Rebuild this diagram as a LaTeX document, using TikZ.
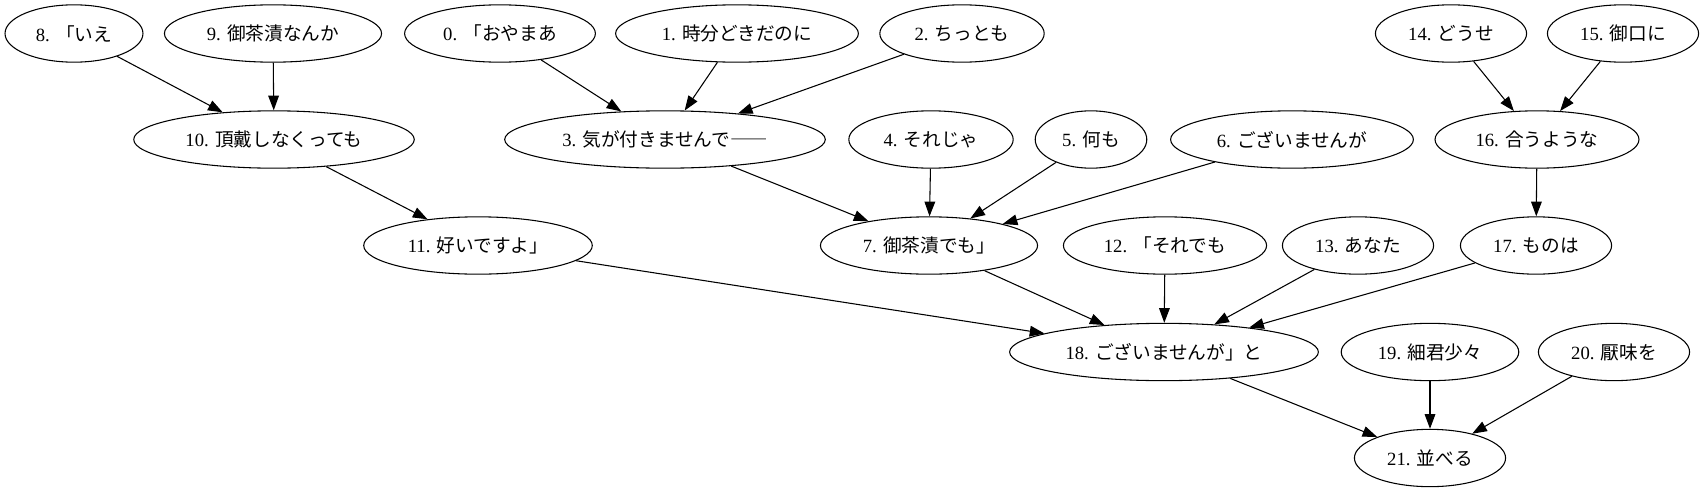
\documentclass[tikz,border=0pt]{standalone}
\usepackage{fontspec}
\setmainfont{Liberation Serif}
\newfontfamily\cjk{Noto Sans CJK JP}
\usetikzlibrary{arrows.meta,shapes.geometric}

\begin{document}
\begin{tikzpicture}[x=0.75pt,y=-0.75pt,
    word/.style={draw,ellipse,line width=0.8pt,inner xsep=8pt,inner ysep=2pt,minimum height=43pt,font=\fontsize{14pt}{16pt}\selectfont},
    dep/.style={->,line width=0.8pt},
    >={Triangle[length=11pt,width=8pt]}]
    \useasboundingbox (0,0) rectangle (1704,493);

    % rank 1
    \node[word] (n8) at (74,33.5) {8. \cjk 「いえ};
    \node[word] (n9) at (273,33.5) {9. \cjk 御茶漬なんか};
    \node[word] (n0) at (500,33.5) {0. \cjk 「おやまあ};
    \node[word] (n1) at (737,33.5) {1. \cjk 時分どきだのに};
    \node[word] (n2) at (962,33.5) {2. \cjk ちっとも};
    \node[word] (n14) at (1451,33.5) {14. \cjk どうせ};
    \node[word] (n15) at (1623,33.5) {15. \cjk 御口に};

    % rank 2
    \node[word] (n10) at (274,139.5) {10. \cjk 頂戴しなくっても};
    \node[word] (n3) at (665,139.5) {3. \cjk 気が付きませんで――};
    \node[word] (n4) at (931,139.5) {4. \cjk それじゃ};
    \node[word] (n5) at (1091,139.5) {5. \cjk 何も};
    \node[word] (n6) at (1292,139.5) {6. \cjk ございませんが};
    \node[word] (n16) at (1537,139.5) {16. \cjk 合うような};

    % rank 3
    \node[word] (n11) at (478,245.5) {11. \cjk 好いですよ」};
    \node[word] (n7) at (929,245.5) {7. \cjk 御茶漬でも」};
    \node[word] (n12) at (1165,245.5) {12. \cjk 「それでも};
    \node[word] (n13) at (1358,245.5) {13. \cjk あなた};
    \node[word] (n17) at (1536,245.5) {17. \cjk ものは};

    % rank 4
    \node[word] (n18) at (1164,352) {18. \cjk ございませんが」と};
    \node[word] (n19) at (1430,352) {19. \cjk 細君少々};
    \node[word] (n20) at (1614,352) {20. \cjk 厭味を};

    % rank 5
    \node[word] (n21) at (1430,458) {21. \cjk 並べる};

    \draw[dep] (n8) -- (n10);
    \draw[dep] (n9) -- (n10);
    \draw[dep] (n0) -- (n3);
    \draw[dep] (n1) -- (n3);
    \draw[dep] (n2) -- (n3);
    \draw[dep] (n10) -- (n11);
    \draw[dep] (n3) -- (n7);
    \draw[dep] (n4) -- (n7);
    \draw[dep] (n5) -- (n7);
    \draw[dep] (n6) -- (n7);
    \draw[dep] (n14) -- (n16);
    \draw[dep] (n15) -- (n16);
    \draw[dep] (n16) -- (n17);
    \draw[dep] (n11) -- (n18);
    \draw[dep] (n7) -- (n18);
    \draw[dep] (n12) -- (n18);
    \draw[dep] (n13) -- (n18);
    \draw[dep] (n17) -- (n18);
    \draw[dep] (n18) -- (n21);
    \draw[dep] (n19) -- (n21);
    \draw[dep] (n20) -- (n21);
\end{tikzpicture}
\end{document}
